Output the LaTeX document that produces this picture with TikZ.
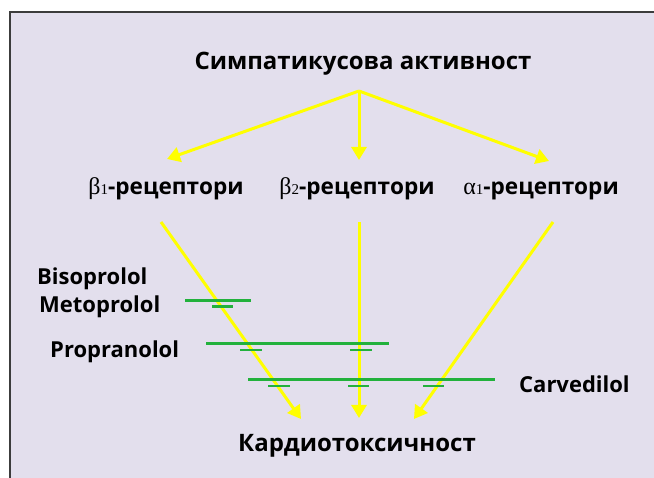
\documentclass[tikz,border=0pt]{standalone}
\usepackage{fontspec}
\setmainfont{Open Sans}
\newfontfamily\grk{Liberation Serif}
\usetikzlibrary{arrows.meta}
\definecolor{bgpanel}{RGB}{227,223,237}
\definecolor{frameline}{RGB}{60,60,60}
\definecolor{arrowyellow}{RGB}{255,255,0}
\definecolor{blockgreen}{RGB}{34,177,60}
\tikzset{
  lbl/.style={font=\fontsize{22}{24}\selectfont\bfseries, inner sep=0pt, text=black},
  cyr/.style={font=\fontsize{24}{26}\selectfont\bfseries, inner sep=0pt, text=black},
  rec/.style={font=\fontsize{22.6}{24}\selectfont\bfseries, inner sep=0pt, text=black},
  yarrow/.style={draw=arrowyellow, line width=3pt, -{Triangle[length=13pt,width=15pt]}},
  gbar/.style={draw=blockgreen, line width=3pt},
  gsmall/.style={draw=blockgreen, line width=2.4pt},
}
\newcommand{\gb}[1]{{\grk\mdseries\fontsize{24}{26}\selectfont #1}}
\newcommand{\gd}[1]{{\grk\mdseries\fontsize{15}{16}\selectfont #1}}
\begin{document}
\begin{tikzpicture}[x=1pt,y=-1pt]
\useasboundingbox (0,0) rectangle (654,478);
\fill[white] (0,0) rectangle (654,478);
\fill[bgpanel] (10,12) rectangle (654,478);
\draw[frameline, line width=2pt] (10,478) -- (10,12) -- (654,12);

% texts
\node[cyr, anchor=base] (title) at (363,70) {Симпатикусова активност};
\node[rec, anchor=base] (b1) at (166,195) {\gb{β}\gd{1}-рецептори};
\node[rec, anchor=base] (b2) at (357,195) {\gb{β}\gd{2}-рецептори};
\node[rec, anchor=base] (a1) at (541,195) {\gb{α}\gd{1}-рецептори};
\node[lbl, anchor=base west] (biso) at (37,285) {Bisoprolol};
\node[lbl, anchor=base west] (meto) at (39,313) {Metoprolol};
\node[lbl, anchor=base west] (prop) at (50,358) {Propranolol};
\node[lbl, anchor=base west] (carv) at (519,393) {Carvedilol};
\node[cyr, anchor=base] (cardio) at (357,452) {Кардиотоксичност};

% connector ends
\coordinate (src) at (359,91);
\coordinate (tb1) at (167,159);
\coordinate (tb2) at (359,160);
\coordinate (ta1) at (549,161);
\coordinate (sb1) at (161,222);
\coordinate (sb2) at (359,222);
\coordinate (sa1) at (553,222);
\coordinate (eb1) at (301,419);
\coordinate (eb2) at (359,418);
\coordinate (ea1) at (414,419);

\draw[yarrow] (src) -- (tb1);
\draw[yarrow] (src) -- (tb2);
\draw[yarrow] (src) -- (ta1);
\draw[yarrow] (sb1) -- (eb1);
\draw[yarrow] (sb2) -- (eb2);
\draw[yarrow] (sa1) -- (ea1);

% inhibition bars
\draw[gbar] (185,300.7) -- (251,300.7);
\draw[gsmall] (212,306.7) -- (233,306.7);
\draw[gbar] (206,344) -- (389,344);
\draw[gsmall] (240,350) -- (262,350);
\draw[gsmall] (350,350) -- (372,350);
\draw[gbar] (248,380) -- (495,380);
\draw[gsmall] (268,386.3) -- (290,386.3);
\draw[gsmall] (348,386.3) -- (369,386.3);
\draw[gsmall] (423,386.3) -- (444,386.3);
\end{tikzpicture}
\end{document}
